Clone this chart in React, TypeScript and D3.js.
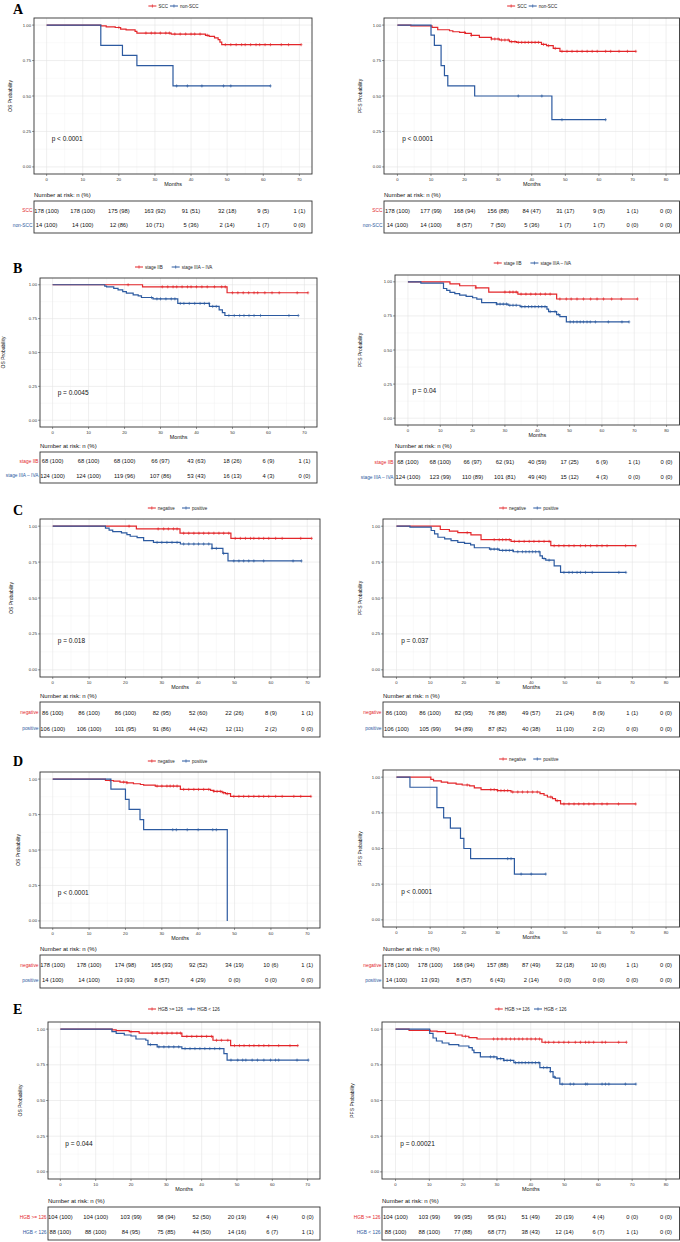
import * as d3 from "d3";
import React from "react";

type Pt = [number, number];

const RED = "#e3262a";
const BLUE = "#2c5aa0";

// risk table times
const timesOS = [0, 10, 20, 30, 40, 50, 60, 70];
const timesPFS = [0, 10, 20, 30, 40, 50, 60, 70, 80];

const groupsA = ["SCC", "non-SCC"];
const groupsB = ["stage IIB", "stage IIIA \u2013 IVA"];
const groupsC = ["negative", "positive"];
const groupsD = ["negative", "positive"];
const groupsE = ["HGB >= 126", "HGB < 126"];

const pValues = [
	"p < 0.0001", "p < 0.0001",
	"p = 0.0045", "p = 0.04",
	"p = 0.018", "p = 0.037",
	"p < 0.0001", "p < 0.0001",
	"p = 0.044", "p = 0.00021",
];

// ---- A: SCC vs non-SCC ----
const aOsRed: Pt[] = [[0, 1], [15, 0.994], [16.5, 0.988], [19, 0.983], [20.5, 0.972], [22, 0.966], [24.5, 0.955], [25, 0.944], [34.5, 0.937], [44, 0.928], [45, 0.92], [46.5, 0.91], [47.5, 0.898], [48, 0.88], [48.5, 0.862]];
const aOsRedCens = [20, 27.5, 29, 30, 31.5, 33, 34, 35.5, 37, 38.5, 40, 41, 42.5, 44.5, 49.5, 51, 52.5, 54, 55, 56.5, 58, 59, 60.5, 62, 65, 67, 70.5];
const aOsBlue: Pt[] = [[0, 1], [15, 0.857], [21, 0.786], [25, 0.714], [35, 0.571]];
const aOsBlueCens = [36, 39, 43, 49, 51, 62];
const aOsRiskRed = ["178 (100)", "178 (100)", "175 (98)", "163 (92)", "91 (51)", "32 (18)", "9 (5)", "1 (1)"];
const aOsRiskBlue = ["14 (100)", "14 (100)", "12 (86)", "10 (71)", "5 (36)", "2 (14)", "1 (7)", "0 (0)"];

const aPfsRed: Pt[] = [[0, 1], [4, 0.995], [10.3, 0.984], [12, 0.967], [15.5, 0.96], [16.5, 0.953], [18.5, 0.948], [20.2, 0.941], [22, 0.927], [24.4, 0.913], [28, 0.902], [30.4, 0.895], [33.4, 0.883], [35.5, 0.878], [42.9, 0.864], [44.4, 0.855], [46.4, 0.836], [48.4, 0.815]];
const aPfsRedCens = [20, 22, 28, 29, 30, 31, 32, 33, 34, 35, 36, 37, 38, 39, 40, 41, 42, 43.5, 45, 47, 49, 50.5, 52, 53.5, 55, 56.5, 58, 59.5, 62, 63.5, 66, 68.5, 71];
const aPfsBlue: Pt[] = [[0, 1], [10, 0.929], [11, 0.857], [13, 0.714], [14, 0.643], [15, 0.571], [23, 0.5], [46, 0.333]];
const aPfsBlueCens = [36, 43, 49, 62];
const aPfsRiskRed = ["178 (100)", "177 (99)", "168 (94)", "156 (88)", "84 (47)", "31 (17)", "9 (5)", "1 (1)", "0 (0)"];
const aPfsRiskBlue = ["14 (100)", "14 (100)", "8 (57)", "7 (50)", "5 (36)", "1 (7)", "1 (7)", "0 (0)", "0 (0)"];

// ---- B: stage ----
const bOsRed: Pt[] = [[0, 1], [25, 0.985], [48.5, 0.941]];
const bOsRedCens = [21, 30.5, 32, 33.5, 34.5, 36, 37.5, 38.5, 40, 41.5, 43, 45, 47, 48, 50, 51.5, 53, 54.5, 56, 57, 59, 61, 63, 68, 71];
const bOsBlue: Pt[] = [[0, 1], [14.5, 0.99], [15, 0.985], [17, 0.973], [18.2, 0.963], [19.5, 0.95], [20.5, 0.938], [22.4, 0.926], [23.8, 0.918], [24.7, 0.906], [27.9, 0.896], [34.8, 0.862], [43.6, 0.84], [46.3, 0.815], [47.2, 0.795], [47.9, 0.773]];
const bOsBlueCens = [27.5, 29, 30, 31.5, 33, 34, 35.5, 36.5, 38, 39.5, 41, 42.2, 43.5, 44.5, 45.5, 49, 50.5, 52, 53.2, 54.6, 56, 57.8, 65.7, 68.3];
const bOsRiskRed = ["68 (100)", "68 (100)", "68 (100)", "66 (97)", "43 (63)", "18 (26)", "6 (9)", "1 (1)"];
const bOsRiskBlue = ["124 (100)", "124 (100)", "119 (96)", "107 (86)", "53 (43)", "16 (13)", "4 (3)", "0 (0)"];

const bPfsRed: Pt[] = [[0, 1], [13, 0.985], [16, 0.971], [21, 0.956], [25, 0.925], [34, 0.91], [46, 0.874]];
const bPfsRedCens = [21, 30, 31.5, 32.5, 33.5, 35, 36.5, 38, 39.5, 41, 42.5, 44, 47, 49, 50.5, 52.3, 54.3, 56.5, 58.5, 60.5, 63, 66, 71];
const bPfsBlue: Pt[] = [[0, 1], [4, 0.99], [11, 0.951], [12, 0.937], [13, 0.922], [14.5, 0.914], [16, 0.903], [18, 0.893], [20, 0.883], [21.3, 0.873], [22.8, 0.847], [27.4, 0.837], [31, 0.828], [34.7, 0.818], [43, 0.8], [43.5, 0.782], [46, 0.76], [47, 0.745], [49, 0.706]];
const bPfsBlueCens = [27.5, 28.5, 29.5, 30.5, 31.5, 32.5, 33.5, 35.2, 36.2, 37.3, 38.3, 39.3, 40.4, 41.4, 42.4, 44, 45.5, 46.6, 50.2, 51.2, 52.3, 53.3, 54.3, 55.4, 56.4, 58, 62, 66.2, 68.4];
const bPfsRiskRed = ["68 (100)", "68 (100)", "66 (97)", "62 (91)", "40 (59)", "17 (25)", "6 (9)", "1 (1)", "0 (0)"];
const bPfsRiskBlue = ["124 (100)", "123 (99)", "110 (89)", "101 (81)", "49 (40)", "15 (12)", "4 (3)", "0 (0)", "0 (0)"];

// ---- C ----
const cOsRed: Pt[] = [[0, 1], [23, 0.981], [35, 0.951], [49, 0.915]];
const cOsRedCens = [21, 29, 30.5, 31.8, 33.2, 34.2, 36, 37.4, 38.8, 40.2, 41.5, 42.9, 44.3, 45.7, 47, 48.4, 50.2, 51.6, 53, 54.4, 55.3, 56.7, 58, 59.4, 61.3, 63.1, 68.2, 71.2];
const cOsBlue: Pt[] = [[0, 1], [14.5, 0.986], [15.5, 0.972], [16.5, 0.962], [18.9, 0.953], [20.4, 0.941], [21.3, 0.93], [23.2, 0.92], [25, 0.9], [27.7, 0.887], [35.1, 0.876], [43.8, 0.845], [46.8, 0.81], [48.2, 0.758]];
const cOsBlueCens = [28.7, 30, 31.4, 32.8, 34.2, 36, 37.4, 38.8, 40.1, 41.5, 42.9, 43.8, 45, 47, 49.8, 51.2, 52.5, 53.9, 55.3, 58, 66.1, 68.4];
const cOsRiskRed = ["86 (100)", "86 (100)", "86 (100)", "82 (95)", "52 (60)", "22 (26)", "8 (9)", "1 (1)"];
const cOsRiskBlue = ["106 (100)", "106 (100)", "101 (95)", "91 (86)", "44 (42)", "12 (11)", "2 (2)", "0 (0)"];

const cPfsRed: Pt[] = [[0, 1], [13, 0.977], [15.7, 0.965], [18.2, 0.955], [22.1, 0.939], [25.1, 0.906], [34, 0.894], [45.8, 0.864]];
const cPfsRedCens = [21, 29, 30.5, 31.5, 32.5, 33.5, 35, 36.4, 37.9, 39.4, 40.8, 42.3, 43.8, 45.3, 46.8, 48.2, 49.7, 51.2, 52.7, 54.6, 56.1, 57.6, 59.5, 61, 62.5, 68, 71];
const cPfsBlue: Pt[] = [[0, 1], [4, 0.993], [10.3, 0.97], [11.3, 0.946], [12.3, 0.923], [14.3, 0.911], [16.2, 0.9], [18.2, 0.887], [20.2, 0.88], [22, 0.87], [23.1, 0.85], [27.6, 0.84], [30.5, 0.831], [34.7, 0.822], [42.6, 0.793], [43.3, 0.775], [44.3, 0.763], [46.8, 0.723], [48.7, 0.678]];
const cPfsBlueCens = [28, 29, 30, 31.5, 32.5, 33.5, 34.5, 36, 37.4, 38.4, 39.4, 40.4, 41.3, 42.3, 43.8, 45.3, 49.7, 51.2, 52.2, 53.6, 54.6, 56.1, 58.1, 66, 68.1];
const cPfsRiskRed = ["86 (100)", "86 (100)", "82 (95)", "76 (88)", "49 (57)", "21 (24)", "8 (9)", "1 (1)", "0 (0)"];
const cPfsRiskBlue = ["106 (100)", "105 (99)", "94 (89)", "87 (82)", "40 (38)", "11 (10)", "2 (2)", "0 (0)", "0 (0)"];

// ---- D ----
const dOsRed: Pt[] = [[0, 1], [14.5, 0.99], [16.7, 0.985], [18.5, 0.979], [20.4, 0.974], [22.2, 0.967], [24.1, 0.962], [25, 0.958], [28.2, 0.951], [35.1, 0.927], [43.4, 0.92], [44.3, 0.913], [46.6, 0.904], [47.5, 0.897], [48.9, 0.878]];
const dOsRedCens = [15.8, 19.5, 20.4, 28.7, 30, 31.4, 32.3, 33.2, 34.2, 36, 37.4, 38.8, 40.1, 41.5, 42.9, 44.3, 45.2, 46.1, 47, 48, 49.8, 51.2, 52.5, 53.9, 55.3, 56.7, 58, 59.4, 61.3, 63.1, 66.3, 68.2, 71];
const dOsBlue: Pt[] = [[0, 1], [16, 0.929], [20, 0.857], [21, 0.786], [24, 0.714], [25, 0.643], [48, 0]];
const dOsBlueCens = [33, 34, 37, 40, 44, 45];
const dOsRiskRed = ["178 (100)", "178 (100)", "174 (98)", "165 (93)", "92 (52)", "34 (19)", "10 (6)", "1 (1)"];
const dOsRiskBlue = ["14 (100)", "14 (100)", "13 (93)", "8 (57)", "4 (29)", "0 (0)", "0 (0)", "0 (0)"];

const dPfsRed: Pt[] = [[0, 1], [10.2, 0.985], [11, 0.974], [13.3, 0.965], [15.2, 0.958], [17.7, 0.951], [19.5, 0.945], [21.7, 0.939], [23.1, 0.925], [25.1, 0.913], [30, 0.906], [34, 0.896], [42.6, 0.885], [43.8, 0.873], [44.8, 0.861], [46.3, 0.849], [47.2, 0.835], [48.7, 0.812]];
const dPfsRedCens = [21, 28, 29, 30, 31, 32, 33, 34.5, 36, 37.4, 38.9, 40.4, 41.8, 45.8, 47.7, 49.7, 51.2, 52.7, 54.1, 55.6, 57.1, 58.6, 61, 62.5, 65.9, 71];
const dPfsBlue: Pt[] = [[0, 1], [4, 0.929], [12, 0.786], [14, 0.714], [16, 0.643], [19, 0.571], [20, 0.5], [22, 0.429], [35, 0.321]];
const dPfsBlueCens = [33, 34, 37, 40, 44.3];
const dPfsRiskRed = ["178 (100)", "178 (100)", "168 (94)", "157 (88)", "87 (49)", "32 (18)", "10 (6)", "1 (1)", "0 (0)"];
const dPfsRiskBlue = ["14 (100)", "13 (93)", "8 (57)", "6 (43)", "2 (14)", "0 (0)", "0 (0)", "0 (0)", "0 (0)"];

// ---- E: HGB ----
const eOsRed: Pt[] = [[0, 1], [14.7, 0.995], [15.8, 0.99], [19.5, 0.982], [22.3, 0.972], [34.4, 0.949], [43.2, 0.922], [48.2, 0.885]];
const eOsRedCens = [20, 26, 27.4, 28.8, 30.2, 31.6, 33, 34, 35.8, 37.2, 38.6, 40, 41.4, 42.8, 44.2, 45.6, 47.4, 49.3, 50.7, 52, 53.5, 54.8, 56.2, 57.6, 59, 61.8, 65, 67.2];
const eOsBlue: Pt[] = [[0, 1], [14.6, 0.982], [15.8, 0.97], [18.1, 0.959], [20, 0.952], [21.4, 0.931], [24.2, 0.922], [24.8, 0.892], [27.4, 0.876], [34.4, 0.864], [46.3, 0.829], [47.2, 0.783]];
const eOsBlueCens = [25.5, 27.9, 29.3, 30.7, 32.1, 33.5, 35.3, 36.7, 38.1, 39.5, 40.9, 42.3, 43.7, 45.1, 48.3, 50.2, 51.6, 52.5, 54.3, 55.8, 57.6, 59.5, 60.9, 61.8, 67, 70.2];
const eOsRiskRed = ["104 (100)", "104 (100)", "103 (99)", "98 (94)", "52 (50)", "20 (19)", "4 (4)", "0 (0)"];
const eOsRiskBlue = ["88 (100)", "88 (100)", "84 (95)", "75 (85)", "44 (50)", "14 (16)", "6 (7)", "1 (1)"];

const ePfsRed: Pt[] = [[0, 1], [4, 0.991], [10.3, 0.986], [12.3, 0.982], [14.8, 0.97], [17.7, 0.959], [19.7, 0.95], [21.7, 0.94], [24.1, 0.931], [43.3, 0.908]];
const ePfsRedCens = [20.7, 29, 30.2, 31.5, 32.7, 34, 35.2, 36.5, 37.6, 38.9, 40.1, 41.4, 42.6, 44.3, 45.3, 46.8, 48.3, 49.8, 51.2, 53.2, 54.7, 56.2, 57.2, 58.6, 61.1, 62.1, 66, 68.3];
const ePfsBlue: Pt[] = [[0, 1], [10.1, 0.97], [11.1, 0.938], [12.1, 0.917], [13.8, 0.903], [15.8, 0.892], [18.7, 0.882], [21.7, 0.871], [22.7, 0.853], [23.2, 0.835], [25.1, 0.806], [30, 0.793], [32, 0.781], [35, 0.765], [42.7, 0.731], [45.8, 0.703], [46.6, 0.664], [47.3, 0.657], [48.6, 0.615]];
const ePfsBlueCens = [28.1, 29.1, 30.1, 31.1, 32.1, 33, 34, 35.5, 36.5, 37.4, 38.4, 39.4, 40.4, 41.4, 42.4, 43.8, 44.8, 45.8, 47, 49.3, 51.7, 52.7, 56.2, 56.7, 61.1, 62.1, 63.1, 68, 71.1];
const ePfsRiskRed = ["104 (100)", "103 (99)", "99 (95)", "95 (91)", "51 (49)", "20 (19)", "4 (4)", "0 (0)", "0 (0)"];
const ePfsRiskBlue = ["88 (100)", "88 (100)", "77 (88)", "68 (77)", "38 (43)", "12 (14)", "6 (7)", "1 (1)", "0 (0)"];

interface Panel {
	l: number; t: number; r: number; b: number;
	tt: number; tb: number; ylabX: number; legY: number;
	letter?: string; letterY?: number;
	os: boolean; groups: string[]; p: string;
	red: Pt[]; redCens: number[]; blue: Pt[]; blueCens: number[];
	riskRed: string[]; riskBlue: string[];
}

const panels: Panel[] = [
	{ l: 34, t: 18, r: 312, b: 174, tt: 201, tb: 233, ylabX: 10, legY: 6, letter: "A", letterY: 14, os: true, groups: groupsA, p: pValues[0], red: aOsRed, redCens: aOsRedCens, blue: aOsBlue, blueCens: aOsBlueCens, riskRed: aOsRiskRed, riskBlue: aOsRiskBlue },
	{ l: 384, t: 18, r: 679.5, b: 174, tt: 201, tb: 233, ylabX: 360, legY: 6, os: false, groups: groupsA, p: pValues[1], red: aPfsRed, redCens: aPfsRedCens, blue: aPfsBlue, blueCens: aPfsBlueCens, riskRed: aPfsRiskRed, riskBlue: aPfsRiskBlue },
	{ l: 40, t: 278, r: 317, b: 427, tt: 452, tb: 483, ylabX: 3, legY: 267, letter: "B", letterY: 273, os: true, groups: groupsB, p: pValues[2], red: bOsRed, redCens: bOsRedCens, blue: bOsBlue, blueCens: bOsBlueCens, riskRed: bOsRiskRed, riskBlue: bOsRiskBlue },
	{ l: 395, t: 275, r: 679.5, b: 425, tt: 452, tb: 485, ylabX: 360, legY: 263, os: false, groups: groupsB, p: pValues[3], red: bPfsRed, redCens: bPfsRedCens, blue: bPfsBlue, blueCens: bPfsBlueCens, riskRed: bPfsRiskRed, riskBlue: bPfsRiskBlue },
	{ l: 40, t: 519, r: 320, b: 677, tt: 702, tb: 737, ylabX: 11, legY: 508, letter: "C", letterY: 515, os: true, groups: groupsC, p: pValues[4], red: cOsRed, redCens: cOsRedCens, blue: cOsBlue, blueCens: cOsBlueCens, riskRed: cOsRiskRed, riskBlue: cOsRiskBlue },
	{ l: 383, t: 519, r: 679.5, b: 677, tt: 702, tb: 737, ylabX: 360, legY: 508, os: false, groups: groupsC, p: pValues[5], red: cPfsRed, redCens: cPfsRedCens, blue: cPfsBlue, blueCens: cPfsBlueCens, riskRed: cPfsRiskRed, riskBlue: cPfsRiskBlue },
	{ l: 40, t: 772, r: 320, b: 928, tt: 955, tb: 988, ylabX: 18, legY: 761, letter: "D", letterY: 766, os: true, groups: groupsD, p: pValues[6], red: dOsRed, redCens: dOsRedCens, blue: dOsBlue, blueCens: dOsBlueCens, riskRed: dOsRiskRed, riskBlue: dOsRiskBlue },
	{ l: 383, t: 770, r: 679.5, b: 927, tt: 955, tb: 988, ylabX: 360, legY: 759, os: false, groups: groupsD, p: pValues[7], red: dPfsRed, redCens: dPfsRedCens, blue: dPfsBlue, blueCens: dPfsBlueCens, riskRed: dPfsRiskRed, riskBlue: dPfsRiskBlue },
	{ l: 48, t: 1022, r: 320, b: 1179, tt: 1207, tb: 1240, ylabX: 20, legY: 1009, letter: "E", letterY: 1014, os: true, groups: groupsE, p: pValues[8], red: eOsRed, redCens: eOsRedCens, blue: eOsBlue, blueCens: eOsBlueCens, riskRed: eOsRiskRed, riskBlue: eOsRiskBlue },
	{ l: 382, t: 1022, r: 679.5, b: 1179, tt: 1207, tb: 1240, ylabX: 352, legY: 1009, os: false, groups: groupsE, p: pValues[9], red: ePfsRed, redCens: ePfsRedCens, blue: ePfsBlue, blueCens: ePfsBlueCens, riskRed: ePfsRiskRed, riskBlue: ePfsRiskBlue },
];

const FONT = "'Liberation Sans', Arial, Helvetica, sans-serif";

const survAt = (steps: Pt[], t: number) => {
	let s = 1;
	steps.forEach((d) => {
		if (d[0] <= t) s = d[1];
	});
	return s;
};

const textW = (s: string, fs: number) => s.length * fs * 0.56;

const KMPanel = ({ cfg }: { cfg: Panel }) => {
	const ticks = cfg.os ? timesOS : timesPFS;
	const xmax = ticks[ticks.length - 1];
	const x = d3.scaleLinear().domain([-xmax * 0.05, xmax * 1.05]).range([cfg.l, cfg.r]);
	const y = d3.scaleLinear().domain([-0.05, 1.05]).range([cfg.b, cfg.t]);
	const line = d3
		.line<Pt>()
		.x((d) => x(d[0]))
		.y((d) => y(d[1]))
		.curve(d3.curveStepAfter);

	const curve = (steps: Pt[], cens: number[]) => {
		const last = steps[steps.length - 1];
		const end = Math.max(last[0], d3.max(cens) || 0);
		return line([...steps, [end, last[1]]]) || "";
	};
	const marks = (steps: Pt[], cens: number[]) =>
		cens
			.map((t) => {
				const cx = x(t);
				const cy = y(survAt(steps, t));
				return `M${cx - 1.3},${cy}H${cx + 1.3}M${cx},${cy - 1.6}V${cy + 1.6}`;
			})
			.join("");

	const xMinor = d3.range(5, xmax + 5, 10);
	const yMajor = [0, 0.25, 0.5, 0.75, 1];
	const yMinor = [0.125, 0.375, 0.625, 0.875];

	// legend layout
	const legFs = 4.5;
	const seg = 8;
	const itemW = cfg.groups.map((g) => seg + 2 + textW(g, legFs));
	const legTotal = itemW[0] + 4 + itemW[1];
	let lx = (cfg.l + cfg.r) / 2 - legTotal / 2;
	const legItems = cfg.groups.map((g, i) => {
		const x0 = lx;
		lx += itemW[i] + 4;
		return { g, x0, color: i === 0 ? RED : BLUE };
	});

	const rowY = [cfg.tt + (cfg.tb - cfg.tt) * 0.3, cfg.tt + (cfg.tb - cfg.tt) * 0.76];

	return (
		<g style={{ fontFamily: FONT }}>
			{cfg.letter && (
				<text x={13} y={cfg.letterY} style={{ fontFamily: "'Liberation Serif', 'Times New Roman', serif" }} fontWeight="bold" fontSize={14}>
					{cfg.letter}
				</text>
			)}
			{/* legend */}
			{legItems.map((it) => (
				<g key={it.g}>
					<line x1={it.x0} x2={it.x0 + seg} y1={cfg.legY} y2={cfg.legY} stroke={it.color} strokeWidth={1} />
					<line x1={it.x0 + seg / 2} x2={it.x0 + seg / 2} y1={cfg.legY - 1.6} y2={cfg.legY + 1.6} stroke={it.color} strokeWidth={0.7} />
					<text x={it.x0 + seg + 2} y={cfg.legY + 1.5} fontSize={legFs} fill="#222">
						{it.g}
					</text>
				</g>
			))}
			{/* grid */}
			{xMinor.map((v) => (
				<line key={"xm" + v} x1={x(v)} x2={x(v)} y1={cfg.t} y2={cfg.b} stroke="#f0f0f0" strokeWidth={0.4} />
			))}
			{yMinor.map((v) => (
				<line key={"ym" + v} x1={cfg.l} x2={cfg.r} y1={y(v)} y2={y(v)} stroke="#f0f0f0" strokeWidth={0.4} />
			))}
			{ticks.map((v) => (
				<line key={"xg" + v} x1={x(v)} x2={x(v)} y1={cfg.t} y2={cfg.b} stroke="#e4e4e4" strokeWidth={0.6} />
			))}
			{yMajor.map((v) => (
				<line key={"yg" + v} x1={cfg.l} x2={cfg.r} y1={y(v)} y2={y(v)} stroke="#e4e4e4" strokeWidth={0.6} />
			))}
			{/* curves */}
			<path d={curve(cfg.red, cfg.redCens)} fill="none" stroke={RED} strokeWidth={1.2} />
			<path d={marks(cfg.red, cfg.redCens)} fill="none" stroke={RED} strokeWidth={0.6} />
			<path d={curve(cfg.blue, cfg.blueCens)} fill="none" stroke={BLUE} strokeWidth={1.2} />
			<path d={marks(cfg.blue, cfg.blueCens)} fill="none" stroke={BLUE} strokeWidth={0.6} />
			<text x={x(1.4)} y={y(0.2) + 2.3} fontSize={6.5} fill="#111">
				{cfg.p}
			</text>
			{/* frame */}
			<rect x={cfg.l} y={cfg.t} width={cfg.r - cfg.l} height={cfg.b - cfg.t} fill="none" stroke="#333" strokeWidth={0.9} />
			{/* axes */}
			{ticks.map((v) => (
				<g key={"xt" + v}>
					<line x1={x(v)} x2={x(v)} y1={cfg.b} y2={cfg.b + 2} stroke="#333" strokeWidth={0.5} />
					<text x={x(v)} y={cfg.b + 6.8} fontSize={4.2} textAnchor="middle" fill="#333">
						{v}
					</text>
				</g>
			))}
			{yMajor.map((v) => (
				<g key={"yt" + v}>
					<line x1={cfg.l - 2} x2={cfg.l} y1={y(v)} y2={y(v)} stroke="#333" strokeWidth={0.5} />
					<text x={cfg.l - 3} y={y(v) + 1.5} fontSize={4.2} textAnchor="end" fill="#333">
						{d3.format(".2f")(v)}
					</text>
				</g>
			))}
			<text x={(cfg.l + cfg.r) / 2} y={cfg.b + 12} fontSize={5.4} textAnchor="middle" fill="#111">
				Months
			</text>
			<text
				transform={`translate(${cfg.ylabX + 1.8},${(cfg.t + cfg.b) / 2}) rotate(-90)`}
				fontSize={5}
				textAnchor="middle"
				fill="#111"
			>
				{cfg.os ? "OS Probability" : "PFS Probability"}
			</text>
			{/* risk table */}
			<text x={cfg.l} y={cfg.tt - 4} fontSize={6} fill="#111">
				Number at risk: n (%)
			</text>
			<rect x={cfg.l} y={cfg.tt} width={cfg.r - cfg.l} height={cfg.tb - cfg.tt} fill="none" stroke="#333" strokeWidth={0.9} />
			{[cfg.riskRed, cfg.riskBlue].map((row, ri) => (
				<g key={"row" + ri}>
					<text x={cfg.l - 1.5} y={rowY[ri] + 1.6} fontSize={4.8} textAnchor="end" fill={ri === 0 ? RED : BLUE}>
						{cfg.groups[ri]}
					</text>
					{row.map((s, i) => (
						<text key={i} x={x(ticks[i])} y={rowY[ri] + 2} fontSize={5.8} textAnchor="middle" fill="#111">
							{s}
						</text>
					))}
				</g>
			))}
		</g>
	);
};

const App = () => (
	<svg
		width={680}
		height={1242}
		viewBox="0 0 680 1242"
		style={{ position: "absolute", left: 0, top: 0, background: "#fff" }}
	>
		<rect width={680} height={1242} fill="#fff" />
		{panels.map((p, i) => (
			<KMPanel key={i} cfg={p} />
		))}
	</svg>
);

export default App;
